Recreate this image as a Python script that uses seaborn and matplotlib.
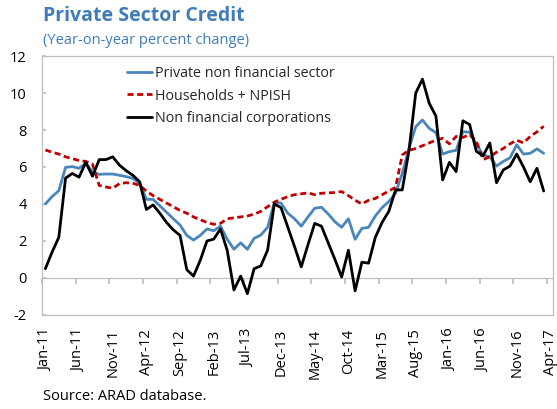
import numpy as np
import pandas as pd
import matplotlib
matplotlib.use("Agg")
import matplotlib.pyplot as plt
import seaborn as sns

tick_labels = ["Jan-11", "Jun-11", "Nov-11", "Apr-12", "Sep-12", "Feb-13", "Jul-13",
               "Dec-13", "May-14", "Oct-14", "Mar-15", "Aug-15", "Jan-16", "Jun-16",
               "Nov-16", "Apr-17"]

private_nfs = [4.0, 4.4, 4.72, 5.98, 6.02, 5.93, 6.2, 5.75, 5.6, 5.62,
               5.62, 5.55, 5.48, 5.38, 5.12, 4.25, 4.25, 3.9, 3.55, 3.2,
               2.86, 2.3, 2.05, 2.3, 2.65, 2.55, 2.8, 2.1, 1.55, 1.9,
               1.55, 2.14, 2.32, 2.74, 4.07, 4.05, 3.5, 3.2, 2.8, 3.3,
               3.77, 3.82, 3.46, 3.04, 2.74, 3.2, 2.09, 2.68, 2.74, 3.35,
               3.8, 4.13, 4.58, 5.66, 7.0, 8.18, 8.54, 8.09, 7.86, 6.7,
               6.83, 6.9, 7.91, 7.88, 7.25, 6.65, 6.55, 6.05, 6.3, 6.5,
               7.2, 6.7, 6.74, 6.98, 6.74]

households = [6.92, 6.8, 6.7, 6.55, 6.45, 6.35, 6.3, 6.15, 5.0, 4.92,
              4.85, 5.1, 5.15, 5.12, 5.0, 4.7, 4.45, 4.25, 4.05, 3.85,
              3.65, 3.5, 3.3, 3.15, 3.0, 2.9, 2.95, 3.2, 3.25, 3.3,
              3.35, 3.45, 3.6, 3.85, 4.1, 4.25, 4.4, 4.5, 4.55, 4.6,
              4.5, 4.58, 4.6, 4.62, 4.67, 4.45, 4.2, 4.0, 4.2, 4.3,
              4.5, 4.7, 4.9, 6.65, 6.9, 7.0, 7.15, 7.3, 7.45, 7.55,
              7.25, 7.65, 7.6, 7.75, 7.4, 6.4, 6.55, 6.8, 7.0, 7.25,
              7.45, 7.3, 7.65, 7.9, 8.2]

nfc = [0.5, 1.4, 2.2, 5.4, 5.65, 5.45, 6.25, 5.5, 6.4, 6.4,
       6.55, 6.1, 5.8, 5.55, 5.2, 3.7, 3.95, 3.5, 3.0, 2.6,
       2.3, 0.45, 0.1, 0.95, 2.0, 2.1, 2.65, 1.5, -0.65, 0.1,
       -0.85, 0.5, 0.65, 1.5, 4.0, 3.8, 2.75, 1.7, 0.6, 1.8,
       2.95, 2.8, 1.9, 1.0, 0.05, 1.5, -0.7, 0.85, 0.8, 2.2,
       3.0, 3.6, 4.76, 4.76, 6.9, 10.0, 10.75, 9.45, 8.75, 5.3,
       6.25, 5.75, 8.5, 8.3, 6.85, 6.6, 7.3, 5.15, 5.84, 6.05,
       6.7, 6.0, 5.2, 5.93, 4.7]

series_names = ["Private non financial sector", "Households + NPISH",
                "Non financial corporations"]

sns.set_theme(style="white")
plt.rcParams['font.family'] = ['Open Sans', 'DejaVu Sans']

grey = "#BFBFBF"
title_blue = "#3F7CB8"

fig = plt.figure(figsize=(5.57, 4.09), dpi=100)
ax = fig.add_axes([0.0754, 0.230, 0.9176, 0.633])

months = np.arange(len(private_nfs))
df = pd.DataFrame({"month": months,
                   series_names[0]: private_nfs,
                   series_names[1]: households,
                   series_names[2]: nfc})
long = df.melt(id_vars="month", var_name="series", value_name="value")

palette = {series_names[0]: "#4A86BA", series_names[1]: "#C00000",
           series_names[2]: "#000000"}
dashes = {series_names[0]: "", series_names[1]: (2.2, 1.3),
          series_names[2]: ""}
sns.lineplot(data=long, x="month", y="value", hue="series", style="series",
             hue_order=series_names, style_order=series_names,
             palette=palette, dashes=dashes, linewidth=2.0, ax=ax)

ax.set_xlim(-0.5, 75.4)
ax.set_ylim(-2, 12)
ax.set_yticks(np.arange(-2, 13, 2))
ax.set_yticklabels([str(v) for v in range(-2, 13, 2)])
ax.set_xticks(np.arange(0, 5 * len(tick_labels), 5))
ax.set_xticklabels(tick_labels, rotation=90)
ax.set_xlabel("")
ax.set_ylabel("")
ax.tick_params(axis="x", length=0, pad=10, labelsize=10.5, labelcolor="#000000")
ax.tick_params(axis="y", direction="in", length=3, color=grey, pad=11,
               labelsize=10.5, labelcolor="#000000", left=True)
for s in ax.spines.values():
    s.set_color(grey)
    s.set_linewidth(0.9)

sec = ax.secondary_xaxis(2 / 14)
sec.set_xticks(np.arange(-0.5, 76, 5))
sec.tick_params(axis="x", direction="out", length=4, color=grey,
                labelbottom=False, labeltop=False)
sec.spines["bottom"].set_color(grey)
sec.spines["bottom"].set_linewidth(0.9)

leg = ax.legend(loc="upper left", bbox_to_anchor=(0.155, 0.985), frameon=False,
                fontsize=10.3, handlelength=1.75, handletextpad=0.2,
                labelspacing=0.55, borderaxespad=0)
for line in leg.get_lines():
    line.set_linewidth(2.0)

fig.text(0.078, 0.962, "Private Sector Credit", fontsize=14, fontweight="bold",
         color=title_blue, va="center", ha="left")
fig.text(0.078, 0.902, "(Year-on-year percent change)", fontsize=10.5,
         color=title_blue, va="center", ha="left")
fig.text(0.078, 0.030, "Source: ARAD database.", fontsize=10.5,
         color="#000000", va="center", ha="left")

fig.savefig("out.png", dpi=100)
